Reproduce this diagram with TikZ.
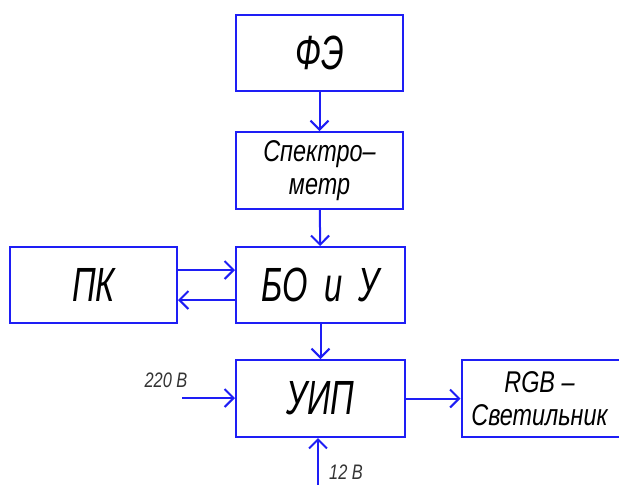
\documentclass[tikz,border=0pt]{standalone}
\usepackage{fontspec}
\setmainfont{Liberation Sans}
\newfontfamily\gost[FakeStretch=0.78]{Liberation Sans}
\newfontfamily\gostn[FakeStretch=0.68]{Liberation Sans}
\usetikzlibrary{arrows.meta}
\definecolor{lineblue}{RGB}{30,30,245}
\begin{document}
\begin{tikzpicture}[x=1pt,y=-1pt,
  box/.style={draw=lineblue,line width=2pt,fill=white,inner sep=0pt,align=center},
  big/.style={font=\gostn\itshape\fontsize{48}{48}\selectfont},
  mid/.style={font=\gost\itshape\fontsize{30}{33}\selectfont},
  link/.style={draw=lineblue,line width=2pt,-{Straight Barb[length=9pt,width=18pt,line width=2pt]}},
  lbl/.style={font=\gost\itshape\fontsize{21}{21}\selectfont,text=black!80,inner sep=0pt}]
\path[use as bounding box] (0,0) rectangle (619,485);
\clip (0,0) rectangle (619,485);
\node[box,big,minimum width=167pt,minimum height=76pt] (fe) at (319.5,53) {ФЭ};
\node[box,mid,minimum width=167pt,minimum height=77pt] (sp) at (319.5,170.5) {Спектро–\\метр};
\node[box,big,minimum width=169pt,minimum height=76pt] (bo) at (320.5,285) {БО\hspace{8pt} и\hspace{6pt} У};
\node[box,big,minimum width=167pt,minimum height=76pt] (pk) at (93.5,285) {ПК};
\node[box,big,minimum width=169pt,minimum height=77pt] (uip) at (320.5,398.5) {УИП};
\node[box,mid,minimum width=170pt,minimum height=77pt,anchor=west] (rgb) at (460.5,398.5) {\hspace*{-14pt}RGB –\\\hspace*{-14pt}Светильник};
\coordinate (in220) at (182,398);
\coordinate (in12) at (318,485);
\draw[link] (fe) -- (sp);
\draw[link] (sp) -- (bo);
\draw[link] (bo) -- (uip);
\draw[link] (pk.east |- 0,270) -- (bo.west |- 0,270);
\draw[link] (bo.west |- 0,300) -- (pk.east |- 0,300);
\draw[link] (uip) -- (rgb);
\draw[link] (in220) -- (uip.west |- in220);
\draw[link] (in12) -- (uip.south -| in12);
\node[lbl] (t220) at (166,380) {220 В};
\node[lbl] (t12) at (346,472) {12 В};
\end{tikzpicture}
\end{document}
